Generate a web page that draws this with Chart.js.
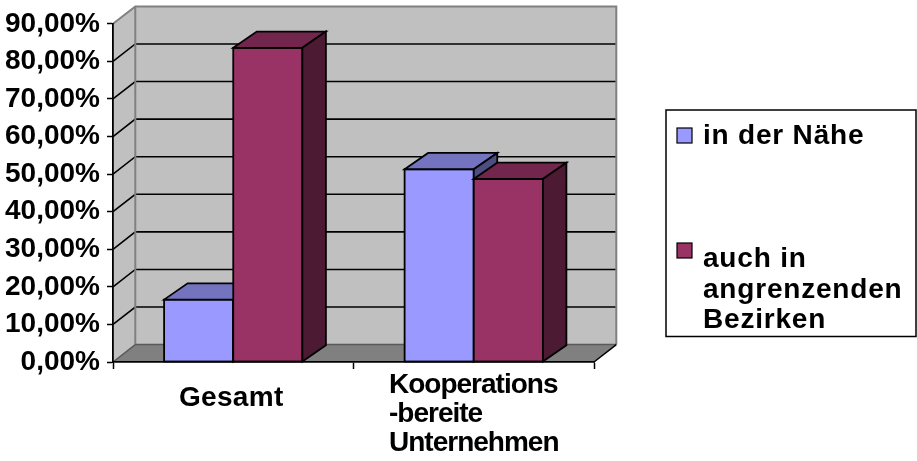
<!DOCTYPE html>
<html>
<head>
<meta charset="utf-8">
<script src="https://cdn.jsdelivr.net/npm/chart.js@4.4.1/dist/chart.umd.min.js"></script>
<style>
  html, body { margin: 0; padding: 0; background: #ffffff; }
  #wrap { width: 917px; height: 461px; }
</style>
</head>
<body>
<div id="wrap"><canvas id="c" width="917" height="461"></canvas></div>
<script>
// Categories and their label lines
const categories = ['Gesamt', 'Kooperations-bereite Unternehmen'];
const categoryLines = [['Gesamt'], ['Kooperations', '-bereite', 'Unternehmen']];

// Series names and legend lines
const seriesNames = ['in der Nähe', 'auch in angrenzenden Bezirken'];
const legendLines = [['in der Nähe'], ['auch in', 'angrenzenden', 'Bezirken']];

// Series values in percent
const naheValues = [16.6, 51.3];
const angrenzendValues = [83.6, 48.7];

// Value axis ticks
const yTickValues = [0, 10, 20, 30, 40, 50, 60, 70, 80, 90];

const FONT = "'Liberation Sans', Arial, sans-serif";
const frontColors = ['#9999ff', '#993366'];
const topColors = ['#7373bf', '#73264d'];
const sideColors = ['#4d4d80', '#4d1a33'];

// Depth offsets of the walls and of the columns
const WALL_DX = 22.3, WALL_DY = -17.4;
const BAR_DX = 23.5, BAR_DY = -16.3;

function poly(ctx, pts) {
  ctx.beginPath();
  ctx.moveTo(pts[0][0], pts[0][1]);
  for (let i = 1; i < pts.length; i++) ctx.lineTo(pts[i][0], pts[i][1]);
  ctx.closePath();
}

// Back wall, side wall and floor with gridlines
const wallsPlugin = {
  id: 'walls',
  beforeDraw(chart) {
    const { ctx, chartArea: a, scales: { y } } = chart;
    const dx = WALL_DX, dy = WALL_DY;
    ctx.save();
    // back wall
    ctx.fillStyle = '#c0c0c0';
    ctx.fillRect(a.left + dx, a.top + dy, a.right - a.left, a.bottom - a.top);
    // left wall
    poly(ctx, [[a.left, a.top], [a.left + dx, a.top + dy], [a.left + dx, a.bottom + dy], [a.left, a.bottom]]);
    ctx.fill();
    // floor
    ctx.fillStyle = '#808080';
    poly(ctx, [[a.left, a.bottom], [a.right, a.bottom], [a.right + dx, a.bottom + dy], [a.left + dx, a.bottom + dy]]);
    ctx.fill();

    // gridlines: diagonal on the side wall, horizontal on the back wall
    ctx.strokeStyle = '#000000';
    ctx.lineWidth = 1.6;
    yTickValues.forEach(v => {
      if (v === y.min || v === y.max) return;
      const py = y.getPixelForValue(v);
      ctx.beginPath();
      ctx.moveTo(a.left, py);
      ctx.lineTo(a.left + dx, py + dy);
      ctx.lineTo(a.right + dx, py + dy);
      ctx.stroke();
    });

    // wall edges
    ctx.strokeStyle = '#808080';
    ctx.lineWidth = 2;
    ctx.beginPath();
    ctx.moveTo(a.left, a.top);
    ctx.lineTo(a.left + dx, a.top + dy);
    ctx.lineTo(a.right + dx, a.top + dy);
    ctx.lineTo(a.right + dx, a.bottom + dy);
    ctx.moveTo(a.left + dx, a.top + dy);
    ctx.lineTo(a.left + dx, a.bottom + dy);
    ctx.stroke();

    ctx.strokeStyle = '#5a5a5a';
    ctx.lineWidth = 1.5;
    ctx.beginPath();
    ctx.moveTo(a.left + dx, a.bottom + dy);
    ctx.lineTo(a.right + dx, a.bottom + dy);
    ctx.moveTo(a.left, a.bottom);
    ctx.lineTo(a.left + dx, a.bottom + dy);
    ctx.stroke();

    ctx.strokeStyle = '#000000';
    ctx.beginPath();
    ctx.moveTo(a.right, a.bottom);
    ctx.lineTo(a.right + dx, a.bottom + dy);
    ctx.stroke();
    ctx.restore();
  }
};

// Column fronts, tops and sides, drawn series by series
const columnsPlugin = {
  id: 'columns3d',
  afterDatasetsDraw(chart) {
    const { ctx } = chart;
    ctx.save();
    ctx.lineWidth = 1.8;
    ctx.lineJoin = 'miter';
    ctx.strokeStyle = '#000000';
    chart.data.datasets.forEach((ds, i) => {
      const meta = chart.getDatasetMeta(i);
      meta.data.forEach(bar => {
        const { x, y, base, width } = bar.getProps(['x', 'y', 'base', 'width'], true);
        const l = x - width / 2, r = x + width / 2;
        bar.draw(ctx);
        ctx.strokeRect(l, y, r - l, base - y);
        // top
        ctx.fillStyle = topColors[i];
        poly(ctx, [[l, y], [l + BAR_DX, y + BAR_DY], [r + BAR_DX, y + BAR_DY], [r, y]]);
        ctx.fill(); ctx.stroke();
        // side
        ctx.fillStyle = sideColors[i];
        poly(ctx, [[r, y], [r + BAR_DX, y + BAR_DY], [r + BAR_DX, base + BAR_DY], [r, base]]);
        ctx.fill(); ctx.stroke();
      });
    });
    ctx.restore();
  }
};

// Category labels and the boxed legend
const labelsPlugin = {
  id: 'labelsLegend',
  afterDraw(chart) {
    const { ctx, scales: { x } } = chart;
    ctx.save();
    ctx.fillStyle = '#000000';
    ctx.textBaseline = 'alphabetic';
    categoryLines.forEach((lines, i) => {
      const cx = x.getPixelForValue(i);
      ctx.font = `bold 28px ${FONT}`;
      if (lines.length === 1) {
        try { ctx.letterSpacing = '0.3px'; } catch (e) {}
        ctx.textAlign = 'center';
        ctx.fillText(lines[0], cx - 2, 406);
      } else {
        try { ctx.letterSpacing = '-1px'; } catch (e) {}
        ctx.textAlign = 'left';
        const w = Math.max(...lines.map(t => ctx.measureText(t).width));
        const sx = cx - w / 2;
        lines.forEach((t, k) => ctx.fillText(t, sx, 393.3 + k * 28.7));
      }
    });

    // legend box
    ctx.strokeStyle = '#000000';
    ctx.lineWidth = 1.5;
    ctx.strokeRect(666, 110, 250, 226.5);
    ctx.font = `bold 28px ${FONT}`;
    ctx.textAlign = 'left';
    try { ctx.letterSpacing = '0.8px'; } catch (e) {}
    const itemTops = [128, 243];
    const firstBaselines = [144, 266.7];
    legendLines.forEach((lines, i) => {
      ctx.fillStyle = frontColors[i];
      ctx.fillRect(677, itemTops[i], 15, 15);
      ctx.lineWidth = 1.2;
      ctx.strokeRect(677, itemTops[i], 15, 15);
      ctx.fillStyle = '#000000';
      lines.forEach((t, k) => ctx.fillText(t, 703, firstBaselines[i] + k * 30.8));
    });
    ctx.restore();
  }
};

new Chart(document.getElementById('c'), {
  type: 'bar',
  data: {
    labels: categories,
    datasets: [
      { label: seriesNames[0], data: naheValues, backgroundColor: frontColors[0], borderWidth: 0 },
      { label: seriesNames[1], data: angrenzendValues, backgroundColor: frontColors[1], borderWidth: 0 }
    ]
  },
  options: {
    responsive: false,
    animation: false,
    events: [],
    layout: { padding: { top: 20, right: 323, bottom: 0, left: 0 } },
    datasets: { bar: { categoryPercentage: 0.575, barPercentage: 1.0 } },
    plugins: { legend: { display: false }, tooltip: { enabled: false } },
    scales: {
      x: {
        offset: true,
        grid: { offset: true, drawOnChartArea: false, drawTicks: true, tickLength: 7, tickColor: '#000000', tickWidth: 1.5 },
        border: { display: true, color: '#000000', width: 1.8 },
        ticks: { display: false },
        afterFit: s => { s.height = 99; }
      },
      y: {
        min: 0,
        max: 90,
        afterBuildTicks: s => { s.ticks = yTickValues.map(v => ({ value: v })); },
        grid: { drawOnChartArea: false, drawTicks: true, tickLength: 6, tickColor: '#000000', tickWidth: 1.5 },
        border: { display: true, color: '#000000', width: 1.8 },
        ticks: {
          color: '#000000',
          padding: 7,
          font: { family: FONT, size: 28, weight: 'bold' },
          callback: v => v.toFixed(2).replace('.', ',') + '%'
        },
        afterFit: s => { s.width = 113; }
      }
    }
  },
  plugins: [wallsPlugin, columnsPlugin, labelsPlugin]
});
</script>
</body>
</html>
